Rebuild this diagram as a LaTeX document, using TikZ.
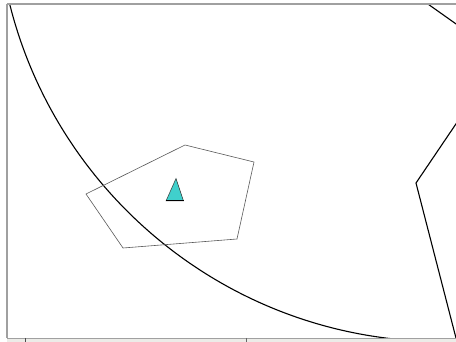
\documentclass[tikz,border=0pt]{standalone}
\definecolor{frame}{RGB}{160,160,160}
\definecolor{barbg}{RGB}{236,236,232}
\definecolor{turq}{RGB}{64,208,204}
\tikzset{
  heavy/.style={draw=black,line width=1.1pt},
  thin/.style={draw=black!65,line width=0.6pt},
  frameline/.style={draw=frame,line width=1.5pt}
}
\begin{document}
\begin{tikzpicture}[x=1pt,y=-1pt]
\useasboundingbox (0,0) rectangle (456,342);
\fill[white] (0,0) rectangle (456,342);
% named points
\coordinate (c) at (442.4,-104.4);
\coordinate (r1) at (418,-3);
\coordinate (r2) at (466,31);
\coordinate (r3) at (462,115);
\coordinate (r4) at (416,183);
\coordinate (r5) at (457,342);
\coordinate (p1) at (185,145);
\coordinate (p2) at (254,162);
\coordinate (p3) at (237,239);
\coordinate (p4) at (123,248);
\coordinate (p5) at (86,194);
\coordinate (t1) at (176,178.5);
\coordinate (t2) at (183.5,201);
\coordinate (t3) at (166,201);
\begin{scope}
\clip (8,5) rectangle (456,338);
\draw[heavy] (c) circle[radius=446];
\draw[heavy] (r1) -- (r2);
\draw[heavy] (r3) -- (r4) -- (r5);
\end{scope}
% bottom bar
\fill[barbg] (7,338) rectangle (456,342);
\draw[frame,line width=0.6pt] (7,338.5) -- (456,338.5);
\draw[black!70,line width=0.8pt] (25,338) -- (25,342);
\draw[black!60,line width=0.8pt] (246,338) -- (246,342);
% frame
\draw[frameline] (7,4) -- (456,4);
\draw[frameline] (7,4) -- (7,338);
\draw[thin] (p1) -- (p2) -- (p3) -- (p4) -- (p5) -- cycle;
\filldraw[fill=turq,draw=black!80,line width=0.5pt] (t1) -- (t2) -- (t3) -- cycle;
\draw[black,line width=1pt] (t3) -- (t2);
\end{tikzpicture}
\end{document}
